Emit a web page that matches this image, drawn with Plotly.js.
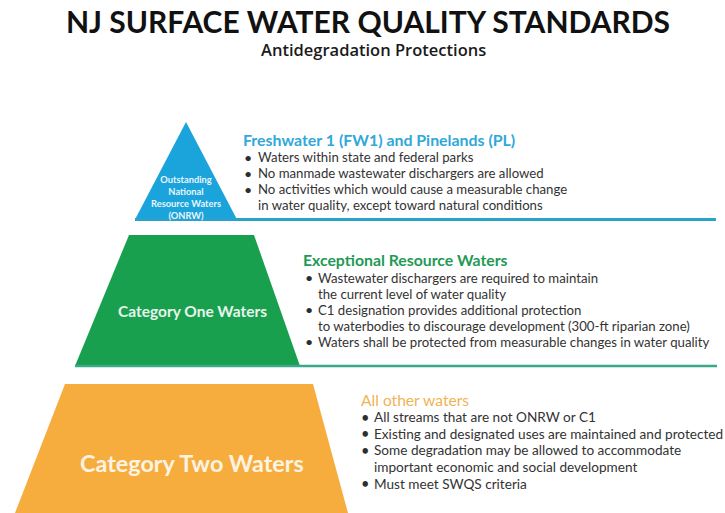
<!DOCTYPE html>
<html>
<head>
<meta charset="utf-8">
<script src="https://cdn.plot.ly/plotly-3.0.1.min.js"></script>
<style>html,body{margin:0;padding:0;background:#fff;}#chart{width:725px;height:513px;}</style>
</head>
<body>
<div id="chart"></div>
<script>
// ---- content (data) ----
const chartTitle = "NJ SURFACE WATER QUALITY STANDARDS";
const chartSubtitle = "Antidegradation Protections";
const tierLabels = [
  ["Outstanding", "National", "Resource Waters", "(ONRW)"],
  ["Category One Waters"],
  ["Category Two Waters"]
];
const tierHeadings = [
  "Freshwater 1 (FW1) and Pinelands (PL)",
  "Exceptional Resource Waters",
  "All other waters"
];
const tierBullets = [
  [
    ["Waters within state and federal parks"],
    ["No manmade wastewater dischargers are allowed"],
    ["No activities which would cause a measurable change", "in water quality, except toward natural conditions"]
  ],
  [
    ["Wastewater dischargers are required to maintain", "the current level of water quality"],
    ["C1 designation provides additional protection", "to waterbodies to discourage development (300-ft riparian zone)"],
    ["Waters shall be protected from measurable changes in water quality"]
  ],
  [
    ["All streams that are not ONRW or C1"],
    ["Existing and designated uses are maintained and protected"],
    ["Some degradation may be allowed to accommodate", "important economic and social development"],
    ["Must meet SWQS criteria"]
  ]
];

// ---- geometry & style (layout, not data) ----
const shapesGeo = [
  {poly: [[186,122],[237,219.5],[135,219.5]], rule: [135,716,219.5], ruleColor: "#2aa3cc", ruleW: 3,
   fill: "#1ba3dc", labelX: 186, labelY: 197, labelSize: 9.3, labelColor: "#e8f6fc",
   headX: 241, headY: 139, headColor: "#30a8d8", headSize: 15.9, headW: 700,
   bulletX: 248, textX: 255.5, lineY0: 157, lineStep: 16, textSize: 13.2, textW: 400},
  {poly: [[129,235],[254,235],[300,366],[75,366]], rule: [75,717,366], ruleColor: "#3aa98a", ruleW: 2.5,
   fill: "#19a04f", labelX: 192, labelY: 311, labelSize: 15.5, labelColor: "#e6f5ec",
   headX: 301, headY: 259, headColor: "#1f9a55", headSize: 15.8, headW: 700,
   bulletX: 309, textX: 316, lineY0: 277.5, lineStep: 16.1, textSize: 13.2, textW: 400},
  {poly: [[65,384],[313,384],[348,513],[15,513]], rule: null,
   fill: "#f7ad3e", labelX: 192, labelY: 463, labelSize: 23.4, labelColor: "#fdf3e2",
   headX: 359, headY: 399.5, headColor: "#efb457", headSize: 15.6, headW: 400,
   bulletX: 365, textX: 372, lineY0: 417, lineStep: 16.7, textSize: 13.6, textW: 400}
];

const FONT = "Lato, 'Open Sans', sans-serif";
const traces = [];
const annotations = [];

shapesGeo.forEach((g, i) => {
  const xs = g.poly.map(p => p[0]); xs.push(g.poly[0][0]);
  const ys = g.poly.map(p => p[1]); ys.push(g.poly[0][1]);
  traces.push({type: "scatter", mode: "lines", x: xs, y: ys, fill: "toself",
    fillcolor: g.fill, line: {width: 0, color: g.fill}, hoverinfo: "skip", showlegend: false});
  if (g.rule) {
    traces.push({type: "scatter", mode: "lines", x: [g.rule[0], g.rule[1]], y: [g.rule[2], g.rule[2]],
      line: {width: g.ruleW, color: g.ruleColor}, hoverinfo: "skip", showlegend: false});
  }
  annotations.push({x: g.labelX, y: g.labelY, xref: "x", yref: "y", text: tierLabels[i].join("<br>"),
    showarrow: false, xanchor: "center", yanchor: "middle", align: "center",
    font: {family: FONT, size: g.labelSize, color: g.labelColor, weight: 700}});
  annotations.push({x: g.headX, y: g.headY, xref: "x", yref: "y", text: tierHeadings[i], showarrow: false,
    xanchor: "left", yanchor: "middle",
    font: {family: FONT, size: g.headSize, color: g.headColor, weight: g.headW}});
  let line = 0;
  tierBullets[i].forEach(b => {
    b.forEach((t, k) => {
      const y = g.lineY0 + line * g.lineStep;
      if (k === 0) {
        annotations.push({x: g.bulletX, y: y, xref: "x", yref: "y", text: "•", showarrow: false,
          xanchor: "center", yanchor: "middle",
          font: {family: FONT, size: g.textSize + 1, color: "#2e2e2e"}});
      }
      annotations.push({x: g.textX, y: y, xref: "x", yref: "y", text: t, showarrow: false,
        xanchor: "left", yanchor: "middle",
        font: {family: FONT, size: g.textSize, color: "#333333", weight: g.textW}});
      line++;
    });
  });
});

annotations.push({x: 373, y: 49.5, xref: "x", yref: "y", text: chartSubtitle, showarrow: false,
  xanchor: "center", yanchor: "middle", font: {family: "'Open Sans', Lato, sans-serif", size: 16.5, color: "#1a1a1a", weight: 600}});

const layout = {
  width: 725, height: 513,
  margin: {l: 0, r: 0, t: 0, b: 0},
  paper_bgcolor: "#ffffff", plot_bgcolor: "#ffffff",
  title: {text: chartTitle, x: 368 / 725, xanchor: "center", y: 1 - 22.5/513, yanchor: "middle",
    yref: "container", font: {family: FONT, size: 30, color: "#111111", weight: 700}},
  xaxis: {range: [0, 725], visible: false, fixedrange: true},
  yaxis: {range: [513, 0], visible: false, fixedrange: true},
  annotations: annotations,
  showlegend: false
};

Plotly.newPlot("chart", traces, layout, {staticPlot: true, displayModeBar: false});
</script>
</body>
</html>
